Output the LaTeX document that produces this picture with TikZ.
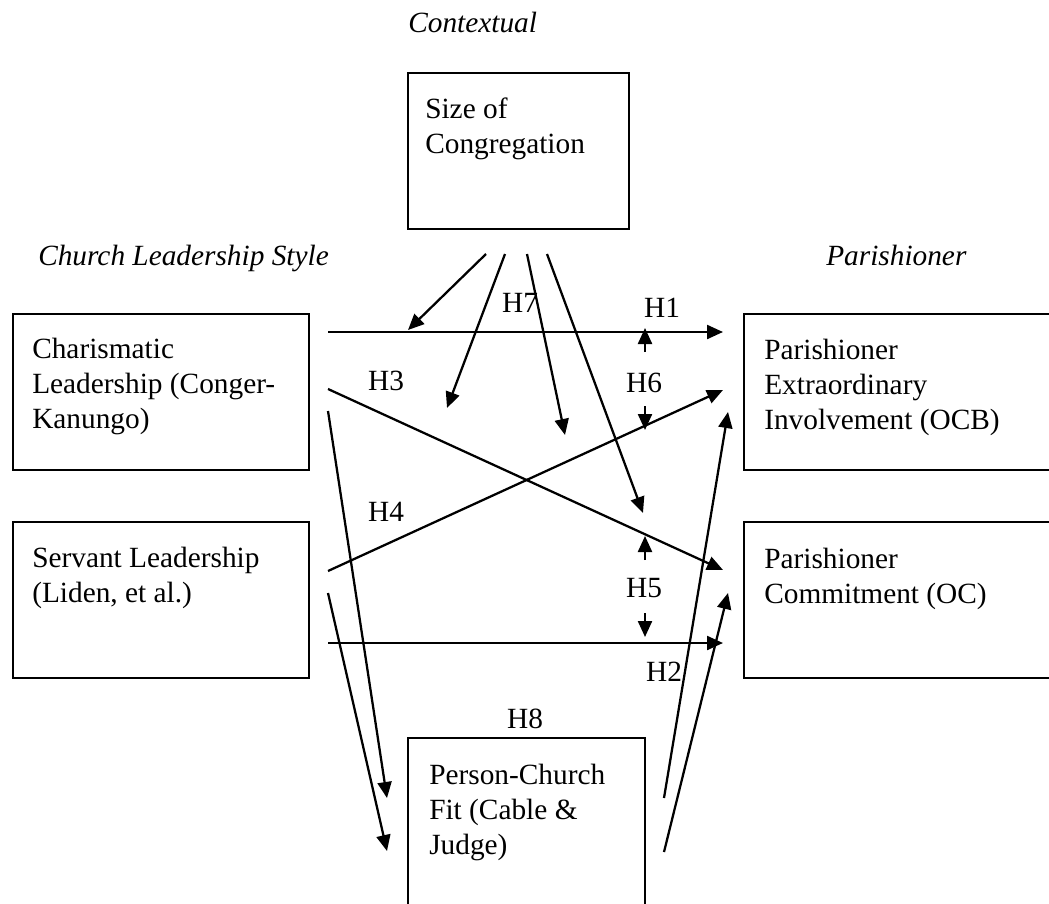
\documentclass[tikz,border=0pt]{standalone}
\usepackage{fontspec}
\setmainfont{Liberation Serif}
\usetikzlibrary{arrows.meta}

\tikzset{
  pbox/.style  = {draw, line width=1.7pt, anchor=north west, inner sep=0pt},
  ptext/.style = {anchor=north west, inner sep=0pt, align=left, font=\fontsize{22}{26.25}\selectfont},
  phead/.style = {anchor=base west, inner sep=0pt, font=\fontsize{22}{26.25}\selectfont\itshape},
  hlab/.style  = {inner sep=0pt, font=\fontsize{22}{26.25}\selectfont},
  parr/.style  = {line width=1.7pt, -{Triangle[length=12pt, width=10.5pt]}}
}

\begin{document}
\begin{tikzpicture}[x = 0.75pt, y = -0.75pt]
        \useasboundingbox (0, 0) rectangle (1049, 903);
        \clip (0, 0) rectangle (1049, 903);

        % headings
        \node[phead] (hcontext) at (408, 32) {Contextual};
        \node[phead] (hstyle) at (38, 265) {Church Leadership Style};
        \node[phead] (hparish) at (826, 265) {Parishioner};

        % boxes
        \node[pbox, minimum width = 165.75pt, minimum height = 117pt] (congr) at (407, 72) {};
        \node[pbox, minimum width = 222pt, minimum height = 117pt] (charis) at (12, 313) {};
        \node[pbox, minimum width = 222pt, minimum height = 117pt] (servant) at (12, 521) {};
        \node[pbox, minimum width = 240pt, minimum height = 117pt] (ocb) at (743, 313) {};
        \node[pbox, minimum width = 240pt, minimum height = 117pt] (oc) at (743, 521) {};
        \node[pbox, minimum width = 177.75pt, minimum height = 150pt] (fit) at (407, 737) {};

        \node[ptext] (congrtxt) at (425, 98) {Size of\\Congregation};
        \node[ptext] (charistxt) at (32, 338) {Charismatic\\Leadership (Conger-\\Kanungo)};
        \node[ptext] (servanttxt) at (32, 547) {Servant Leadership\\(Liden, et al.)};
        \node[ptext] (ocbtxt) at (764, 339) {Parishioner\\Extraordinary\\Involvement (OCB)};
        \node[ptext] (octxt) at (764, 548) {Parishioner\\Commitment (OC)};
        \node[ptext] (fittxt) at (429, 764) {Person-Church\\Fit (Cable \&\\Judge)};

        % hypothesis labels
        \foreach \n/\x/\y in {1/662/308, 2/664/672, 3/386/381, 4/386/512,
                              5/644/588, 6/644/383, 7/520/303, 8/525/719}
          \node[hlab] (lab\n) at (\x, \y) {H\n};

        % arrow ends
        \foreach \n/\x/\y in {h1s/328/332, h1e/723/332,
                              c1s/486/254, c1e/408/330, c2s/505/254, c2e/447/408,
                              c3s/527/254, c3e/565/435, c4s/547/254, c4e/643/513,
                              h6a/645/352, h6b/645/328, h6c/645/406, h6d/645/430,
                              h3s/328/389, h3e/723/570, h4s/328/571, h4e/723/390,
                              h5a/645/560, h5b/645/536, h5c/645/613, h5d/645/637,
                              h2s/328/643, h2e/723/643,
                              f1s/328/411, f1e/387/798, f2s/328/593, f2e/387/851,
                              g1s/664/798, g1e/728/412, g2s/664/852, g2e/728/593}
          \coordinate (\n) at (\x, \y);

        \foreach \a/\b in {h1s/h1e, c1s/c1e, c2s/c2e, c3s/c3e, c4s/c4e,
                           h6a/h6b, h6c/h6d, h3s/h3e, h4s/h4e, h5a/h5b, h5c/h5d,
                           h2s/h2e, f1s/f1e, f2s/f2e, g1s/g1e, g2s/g2e}
          \draw[parr] (\a) -- (\b);
      \end{tikzpicture}
\end{document}
